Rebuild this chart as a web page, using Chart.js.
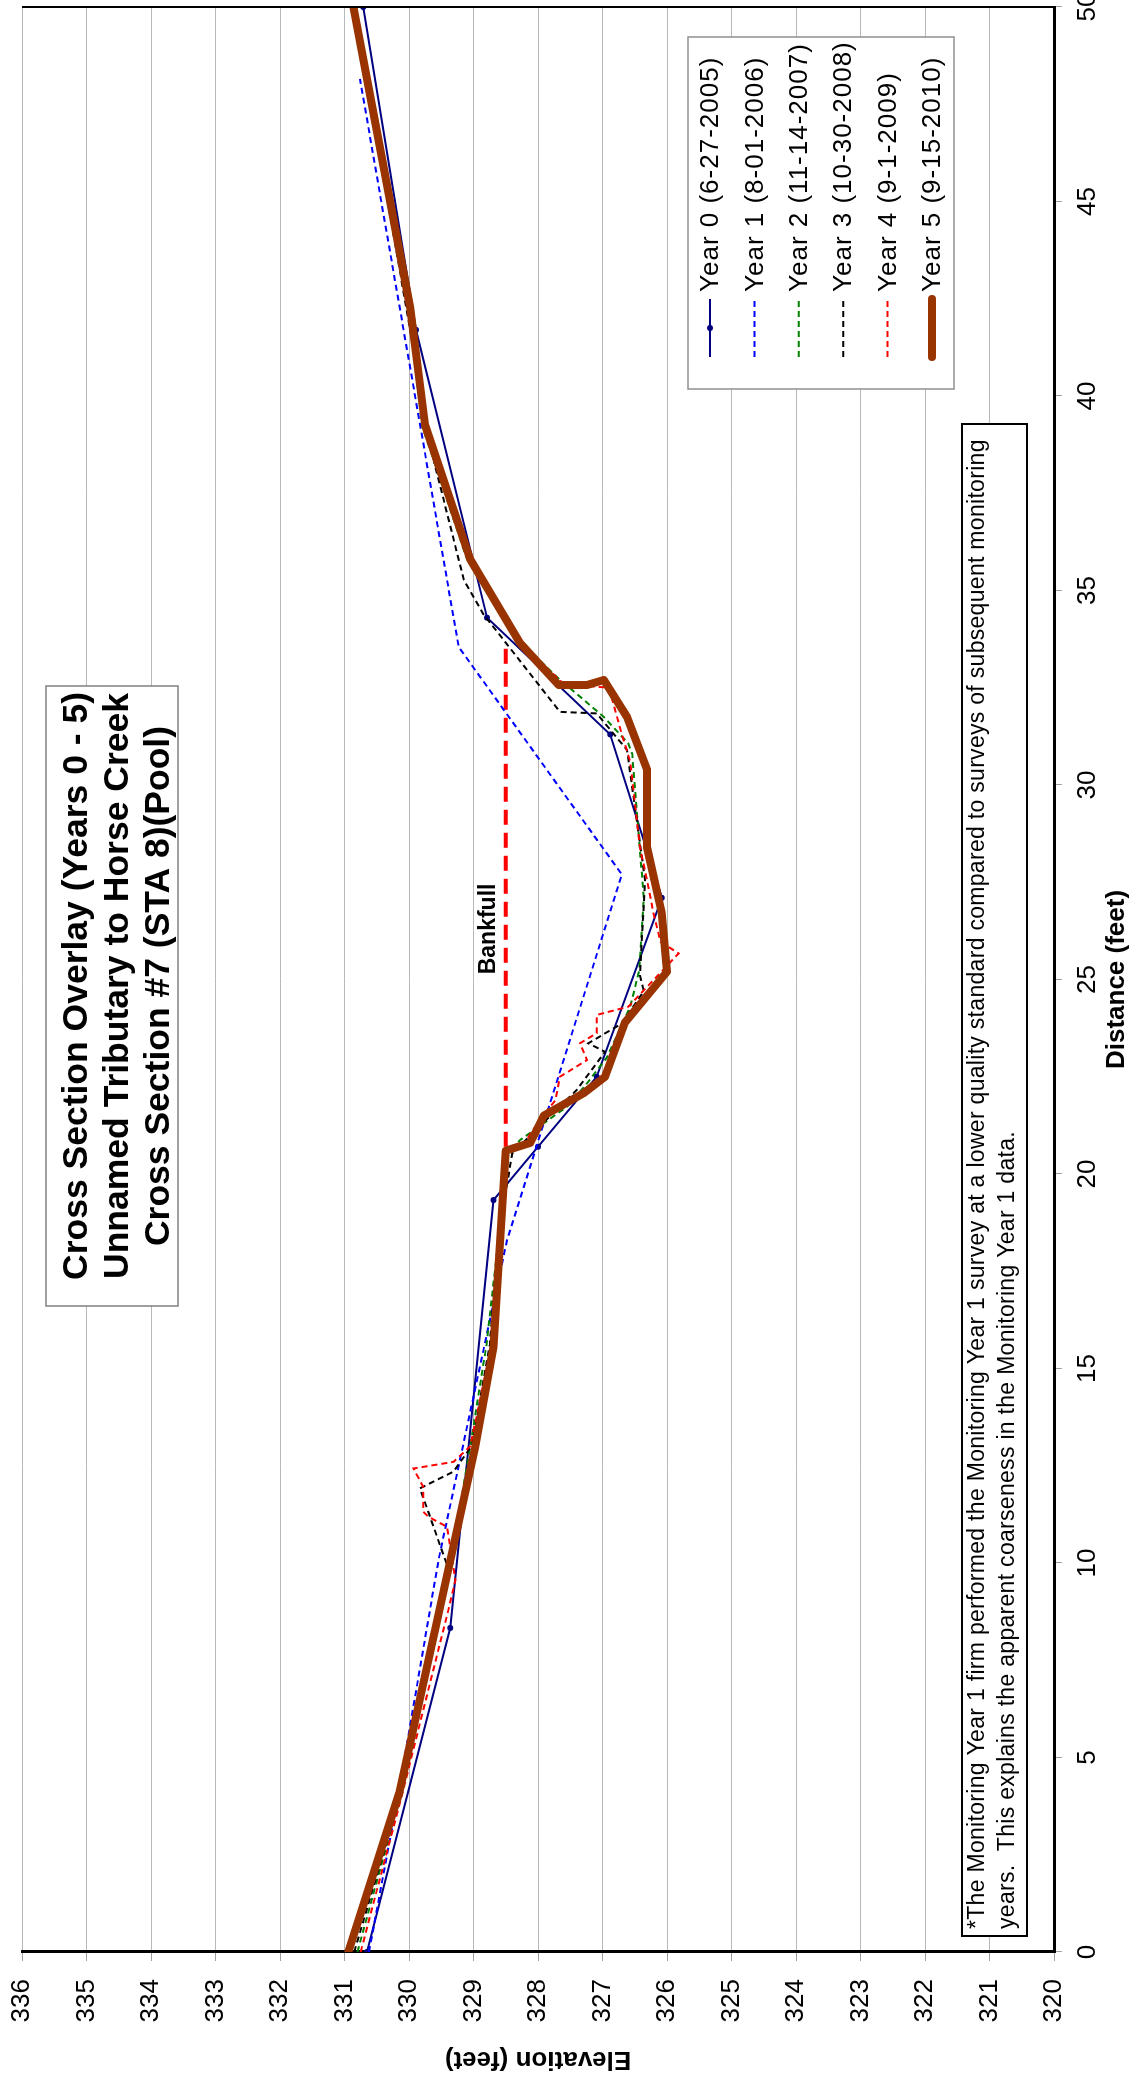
<!DOCTYPE html>
<html>
<head>
<meta charset="utf-8">
<title>Cross Section Overlay - Cross Section #7 (STA 8)(Pool)</title>
<script src="https://cdn.jsdelivr.net/npm/chart.js@4/dist/chart.umd.min.js"></script>
<style>
  html, body { margin: 0; padding: 0; background: #fff; overflow: hidden; width: 1135px; height: 2080px; }
  /* the chart is laid out landscape and turned a quarter turn onto the portrait page */
  #wrap { position: absolute; left: 0; top: 0; width: 2080px; height: 1135px;
          transform-origin: 0 0; transform: translateY(2080px) rotate(-90deg); }
  canvas { display: block; }
</style>
</head>
<body>
<div id="wrap"><canvas id="chart" width="2080" height="1135"></canvas></div>
<script>
// ---- survey data: distance (feet) and elevation (feet) ----
const seriesLabels = [
  'Year 0 (6-27-2005)', 'Year 1 (8-01-2006)', 'Year 2 (11-14-2007)',
  'Year 3 (10-30-2008)', 'Year 4 (9-1-2009)', 'Year 5 (9-15-2010)'
];

const year0Dist = [0, 8.33, 19.33, 20.7, 22.5, 27.1, 31.3, 34.3, 41.7, 50];
const year0Elev = [330.65, 329.36, 328.69, 328.0, 327.09, 326.08, 326.88, 328.79, 329.89, 330.71];

const year1Dist = [0, 4.2, 10.1, 18.3, 27.7, 33.55, 48.15];
const year1Elev = [330.62, 330.15, 329.54, 328.48, 326.7, 329.23, 330.76];

const year2Dist = [0, 4.1, 9.1, 13.0, 15.6, 18.5, 20.45, 20.87, 21.73, 22.33, 23.0, 24.3, 25.24, 27.1, 30.8, 31.07, 31.75, 32.78, 33.7, 35.8, 39.25, 42.3, 50];
const year2Elev = [330.8, 330.12, 329.45, 329.05, 328.8, 328.6, 328.51, 328.28, 327.55, 327.24, 326.93, 326.57, 326.43, 326.36, 326.54, 326.6, 326.98, 327.71, 328.28, 329.1, 329.8, 330.0, 330.9];

const year3Dist = [0, 4.1, 9.9, 11.92, 12.35, 13.03, 15.6, 18.5, 20.53, 22.16, 23.14, 23.36, 23.87, 24.7, 25.1, 27.56, 30.9, 31.84, 31.88, 34.4, 35.27, 38.7, 50];
const year3Elev = [330.85, 330.12, 329.4, 329.83, 329.31, 329.02, 328.75, 328.6, 328.4, 327.4, 326.96, 327.22, 326.7, 326.36, 326.42, 326.34, 326.62, 327.09, 327.66, 328.85, 329.15, 329.67, 330.85];

const year4Dist = [0, 4.1, 8.79, 9.56, 10.93, 11.19, 11.32, 11.96, 12.43, 12.6, 13.0, 15.6, 18.5, 20.66, 20.83, 21.39, 21.9, 22.5, 22.93, 23.36, 23.62, 24.09, 24.3, 25.67, 25.97, 26.7, 27.56, 28.4, 30.6, 31.3, 32.5, 32.6, 33.65, 35.8, 39.3, 42.3, 50];
const year4Elev = [330.75, 330.1, 329.39, 329.28, 329.41, 329.70, 329.78, 329.78, 329.93, 329.31, 329.05, 328.72, 328.55, 328.48, 328.2, 327.97, 327.73, 327.66, 327.24, 327.35, 327.09, 327.09, 326.6, 325.82, 326.1, 326.21, 326.31, 326.42, 326.57, 326.7, 326.9, 327.6, 328.28, 329.05, 329.72, 329.98, 330.88];

const year5Dist = [0, 4.1, 13.0, 15.56, 20.6, 20.8, 21.5, 22.08, 22.5, 23.9, 25.2, 26.7, 28.4, 30.4, 31.75, 32.7, 32.57, 32.57, 33.65, 35.8, 39.25, 42.26, 50];
const year5Elev = [330.94, 330.15, 328.97, 328.69, 328.5, 328.12, 327.91, 327.29, 326.96, 326.65, 326.0, 326.08, 326.31, 326.31, 326.62, 326.98, 327.24, 327.68, 328.28, 329.05, 329.75, 329.98, 330.86];

const bankfullDist = [20.7, 33.7];
const bankfullElev = [328.5, 328.5];
const bankfullLabel = 'Bankfull';
const bankfullLabelDist = 26.3;

// axis ranges and ticks
const distMin = 0, distMax = 50, distStep = 5;
const elevMin = 320, elevMax = 336, elevStep = 1;

const titleLines = [
  'Cross Section Overlay (Years 0 - 5)',
  'Unnamed Tributary to Horse Creek',
  'Cross Section #7 (STA 8)(Pool)'
];
const noteLines = [
  '*The Monitoring Year 1 firm performed the Monitoring Year 1 survey at a lower quality standard compared to surveys of subsequent monitoring',
  'years.  This explains the apparent coarseness in the Monitoring Year 1 data.'
];

const FONT = '"Liberation Sans", Arial, Helvetica, sans-serif';
Chart.defaults.font.family = FONT;
Chart.defaults.color = '#000';

const pts = (d, e) => d.map((v, i) => ({ x: v, y: e[i] }));

const datasets = [
  { label: seriesLabels[0], data: pts(year0Dist, year0Elev), borderColor: '#000080', backgroundColor: '#000080',
    borderWidth: 2, pointRadius: 3, pointStyle: 'circle', pointBorderWidth: 0, order: 5 },
  { label: seriesLabels[1], data: pts(year1Dist, year1Elev), borderColor: '#0000FF', borderWidth: 2, borderDash: [6, 4], order: 4 },
  { label: seriesLabels[2], data: pts(year2Dist, year2Elev), borderColor: '#008000', borderWidth: 2, borderDash: [6, 4], order: 3 },
  { label: seriesLabels[3], data: pts(year3Dist, year3Elev), borderColor: '#000000', borderWidth: 2, borderDash: [6, 4], order: 2 },
  { label: seriesLabels[4], data: pts(year4Dist, year4Elev), borderColor: '#FF0000', borderWidth: 2, borderDash: [6, 4], order: 1 },
  { label: seriesLabels[5], data: pts(year5Dist, year5Elev), borderColor: '#993300', borderWidth: 8,
    borderCapStyle: 'round', borderJoinStyle: 'round', order: 0 },
  { label: bankfullLabel, data: pts(bankfullDist, bankfullElev), borderColor: '#FF0000', borderWidth: 4,
    borderDash: [15, 8], order: 6, inLegend: false }
];

// draw text with optional extra tracking
function spacedText(ctx, text, x, y, spacing) {
  if ('letterSpacing' in ctx) {
    ctx.letterSpacing = spacing + 'px';
    ctx.fillText(text, x, y);
    ctx.letterSpacing = '0px';
  } else {
    ctx.fillText(text, x, y);
  }
}

// boxes, legend, label and note drawn over the plot
const decor = {
  id: 'decor',
  afterDatasetsDraw(chart) {
    const { ctx, chartArea: a, scales: { x, y } } = chart;
    ctx.save();

    // plot frame edge on the far side
    ctx.strokeStyle = '#000';
    ctx.lineWidth = 2;
    ctx.beginPath(); ctx.moveTo(a.right, a.top); ctx.lineTo(a.right, a.bottom); ctx.stroke();

    // bankfull label
    ctx.fillStyle = '#000';
    ctx.font = 'bold 23px ' + FONT;
    ctx.textAlign = 'center';
    ctx.textBaseline = 'alphabetic';
    ctx.fillText(bankfullLabel, x.getPixelForValue(bankfullLabelDist), y.getPixelForValue(bankfullElev[0]) - 11);

    // title box
    ctx.fillStyle = '#fff';
    ctx.fillRect(774, 46, 620, 132);
    ctx.strokeStyle = '#808080';
    ctx.lineWidth = 1.5;
    ctx.strokeRect(774, 46, 620, 132);
    ctx.fillStyle = '#000';
    ctx.font = 'bold 35.5px ' + FONT;
    ctx.textAlign = 'center';
    ctx.textBaseline = 'middle';
    titleLines.forEach((t, i) => ctx.fillText(t, 1094, 77 + i * 41));

    // legend
    ctx.fillStyle = '#fff';
    ctx.fillRect(1691, 688, 352, 266);
    ctx.strokeStyle = '#909090';
    ctx.lineWidth = 1.5;
    ctx.strokeRect(1691, 688, 352, 266);
    ctx.font = '26px ' + FONT;
    ctx.textAlign = 'left';
    ctx.textBaseline = 'middle';
    chart.data.datasets.filter(ds => ds.inLegend !== false).forEach((ds, i) => {
      const ly = 710 + i * 44.4;
      ctx.save();
      ctx.strokeStyle = ds.borderColor;
      ctx.lineWidth = ds.borderWidth;
      ctx.lineCap = ds.borderCapStyle === 'round' ? 'round' : 'butt';
      ctx.setLineDash(ds.borderDash || []);
      ctx.beginPath(); ctx.moveTo(1723, ly); ctx.lineTo(1781, ly); ctx.stroke();
      if (ds.pointRadius) {
        ctx.fillStyle = ds.borderColor;
        ctx.beginPath(); ctx.arc(1752, ly, ds.pointRadius, 0, Math.PI * 2); ctx.fill();
      }
      ctx.restore();
      ctx.fillStyle = '#000';
      spacedText(ctx, ds.label, 1788, ly + 1, 1);
    });

    // survey note
    ctx.fillStyle = '#fff';
    ctx.fillRect(144, 962, 1512, 65);
    ctx.strokeStyle = '#000';
    ctx.lineWidth = 2;
    ctx.strokeRect(144, 962, 1512, 65);
    ctx.fillStyle = '#000';
    ctx.font = '23px ' + FONT;
    ctx.textAlign = 'left';
    ctx.textBaseline = 'middle';
    noteLines.forEach((t, i) => spacedText(ctx, t, 151, 978 + i * 30, 0.3));

    ctx.restore();
  }
};

new Chart(document.getElementById('chart'), {
  type: 'line',
  data: { datasets },
  options: {
    responsive: false,
    animation: false,
    layout: { padding: { top: 22, right: 7, bottom: 0, left: 0 } },
    plugins: { legend: { display: false }, tooltip: { enabled: false }, title: { display: false } },
    elements: { line: { tension: 0, fill: false }, point: { radius: 0, hoverRadius: 0 } },
    scales: {
      x: {
        type: 'linear', position: 'bottom', min: distMin, max: distMax,
        ticks: { stepSize: distStep, font: { size: 26 }, color: '#000', padding: 10, maxRotation: 0 },
        grid: { drawOnChartArea: false, drawTicks: true, tickLength: 8, tickColor: '#a0a0a0' },
        border: { display: true, color: '#000', width: 3 },
        title: { display: true, text: 'Distance (feet)', font: { size: 26, weight: 'bold' }, color: '#000', padding: { top: 2, bottom: 3 } },
        afterFit(s) { s.height = 81; s.paddingLeft = 0; s.paddingRight = 0; }
      },
      y: {
        type: 'linear', position: 'left', min: elevMin, max: elevMax,
        ticks: { stepSize: elevStep, font: { size: 26 }, color: '#000', padding: 18 },
        grid: { color: '#b8b8b8', lineWidth: 1, tickLength: 9, tickColor: '#a0a0a0' },
        border: { display: true, color: '#000', width: 3 },
        title: { display: true, text: 'Elevation (feet)', font: { size: 26, weight: 'bold' }, color: '#000', padding: { top: 5, bottom: 2 } },
        afterFit(s) { s.width = 128; s.paddingTop = 0; s.paddingBottom = 0; }
      }
    }
  },
  plugins: [decor]
});
</script>
</body>
</html>
